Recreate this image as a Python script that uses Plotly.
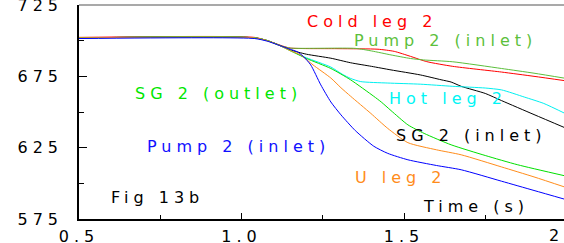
import plotly.graph_objects as go

# ---- data ----
cold_x = [0.5, 1.04, 1.08, 1.127, 1.15, 1.30, 1.42, 1.47, 1.52, 1.57, 1.65, 1.80, 1.90, 2.0]
cold_y = [702.3, 702.3, 700, 696.2, 694.8, 694.4, 694.0, 692.5, 689.0, 685.3, 682.0, 678.0, 675.0, 671.8]

pumptop_x = [0.5, 1.04, 1.08, 1.127, 1.15, 1.35, 1.40, 1.46, 1.52, 1.56, 1.65, 1.80, 1.90, 2.0]
pumptop_y = [702.0, 702.0, 700, 696.0, 694.8, 694.6, 692.8, 690.0, 687.5, 686.5, 685.2, 680.5, 677.2, 673.5]

sgin_x = [0.5, 1.04, 1.08, 1.127, 1.15, 1.20, 1.275, 1.336, 1.40, 1.46, 1.55, 1.614, 1.645, 1.676, 1.75, 1.80, 1.90, 2.0]
sgin_y = [702.0, 702.0, 700, 695.8, 693.5, 690.5, 687.7, 684.5, 682.0, 679.5, 676.0, 672.6, 671.0, 668.0, 663.0, 658.0, 648.2, 638.5]

hot_x = [0.5, 1.04, 1.08, 1.127, 1.15, 1.20, 1.275, 1.31, 1.336, 1.367, 1.45, 1.55, 1.65, 1.75, 1.80, 1.87, 1.93, 2.0]
hot_y = [702.0, 702.0, 700, 695.6, 693.0, 688.0, 681.5, 676.5, 673.5, 671.3, 670.3, 669.5, 668.0, 666.8, 665.5, 660.5, 656.0, 648.5]

sgout_x = [0.5, 1.04, 1.08, 1.127, 1.15, 1.20, 1.275, 1.336, 1.407, 1.43, 1.46, 1.512, 1.562, 1.645, 1.75, 1.85, 2.0]
sgout_y = [702.0, 702.0, 700, 695.6, 693.0, 687.5, 680.5, 672.5, 661.0, 657.0, 651.0, 641.0, 635.0, 627.0, 619.5, 613.0, 605.0]

uleg_x = [0.5, 1.04, 1.08, 1.127, 1.15, 1.182, 1.22, 1.275, 1.306, 1.336, 1.398, 1.45, 1.512, 1.60, 1.676, 1.80, 1.90, 2.0]
uleg_y = [702.0, 702.0, 700, 695.6, 693.0, 690.0, 683.0, 673.8, 667.0, 661.0, 649.0, 638.5, 628.5, 623.5, 620.0, 611.5, 604.5, 597.0]

pumpbot_x = [0.5, 1.04, 1.08, 1.127, 1.15, 1.172, 1.19, 1.213, 1.244, 1.275, 1.306, 1.35, 1.407, 1.45, 1.512, 1.60, 1.676, 1.80, 1.90, 2.0]
pumpbot_y = [701.5, 701.5, 699.6, 695.8, 694.0, 692.2, 689.0, 683.0, 669.0, 657.0, 648.0, 637.0, 626.0, 621.0, 616.5, 612.5, 609.5, 601.5, 595.0, 588.5]

series_names = ["Cold leg 2", "Pump 2 (inlet)", "SG 2 (inlet)", "Hot leg 2",
                "SG 2 (outlet)", "U leg 2", "Pump 2 (inlet)"]

y_tick_vals = [575, 625, 675, 725]
y_tick_labels = ["575", "625", "675", "725"]
y_minor_vals = [600, 650, 700]
x_tick_vals = [0.5, 1.0, 1.5]
x_tick_labels = ["0.5", "1.0", "1.5"]
x_minor_vals = [0.75, 1.25, 1.75]
x_last_label = "2.0"

FONT = "DejaVu Sans"
LS = 5  # letter spacing to mimic the horizontally stretched text


def sp(t):
    return f'<span style="letter-spacing:{LS}px">{t}</span>'


fig = go.Figure()
lines = [
    (cold_x, cold_y, "#ff0000"),
    (pumptop_x, pumptop_y, "#5cbf3c"),
    (sgin_x, sgin_y, "#000000"),
    (hot_x, hot_y, "#00f0f0"),
    (sgout_x, sgout_y, "#00e000"),
    (uleg_x, uleg_y, "#ff8c1a"),
    (pumpbot_x, pumpbot_y, "#0000ff"),
]
for (xs, ys, c), nm in zip(lines, series_names):
    fig.add_trace(go.Scatter(x=xs, y=ys, mode="lines", name=nm,
                             line=dict(color=c, width=1, shape="spline", smoothing=0.6),
                             showlegend=False, hoverinfo="skip"))

labels = [
    ("Cold leg 2", 1.403, 713.3, "#ff0000"),
    ("Pump 2 (inlet)", 1.628, 700.4, "#5cbf3c"),
    ("SG 2 (outlet)", 0.929, 662.9, "#00e600"),
    ("Hot leg 2", 1.634, 659.6, "#00f5f5"),
    ("SG 2 (inlet)", 1.709, 633.3, "#000000"),
    ("Pump 2 (inlet)", 0.991, 625.6, "#1010ff"),
    ("U leg 2", 1.492, 604.2, "#ff8c1a"),
    ("Time (s)", 1.722, 584.1, "#000000"),
    ("Fig 13b", 0.7415, 589.8, "#000000"),
]
for t, x, y, c in labels:
    fig.add_annotation(x=x, y=y, xref="x", yref="y", text=sp(t), showarrow=False,
                       xanchor="center", yanchor="middle",
                       font=dict(family=FONT, size=16, color=c))

# partially visible last x tick label (its tick lies just past the window edge)
fig.add_annotation(x=1.0113, y=-0.075, xref="paper", yref="paper", text=sp(x_last_label),
                   showarrow=False, xanchor="center", yanchor="middle",
                   font=dict(family=FONT, size=16, color="#000000"))

# grey top frame
fig.add_shape(type="line", xref="paper", yref="paper", x0=0, x1=1, y0=1, y1=1,
              line=dict(color="#8c8c8c", width=1.5))

fig.update_layout(
    width=564, height=243,
    margin=dict(l=79, r=0, t=5, b=24, autoexpand=False),
    paper_bgcolor="white", plot_bgcolor="white",
    font=dict(family=FONT, size=16, color="#000000"),
    xaxis=dict(range=[0.5, 0.5 + 485 / 325], showgrid=False, zeroline=False,
               automargin=False, ticklabeloverflow="allow",
               showline=True, linecolor="#000000", linewidth=1.5,
               ticks="inside", ticklen=6, tickwidth=1, tickcolor="#000000",
               tickmode="array", tickvals=x_tick_vals,
               ticktext=[sp(t) for t in x_tick_labels],
               ticklabelstandoff=2,
               minor=dict(ticks="inside", ticklen=4, tickwidth=1, tickcolor="#000000",
                          tickvals=x_minor_vals, showgrid=False),
               tickfont=dict(family=FONT, size=16, color="#000000")),
    yaxis=dict(range=[575, 725], showgrid=False, zeroline=False,
               automargin=False, ticklabeloverflow="allow",
               showline=True, linecolor="#000000", linewidth=1.5,
               ticks="inside", ticklen=8, tickwidth=1, tickcolor="#000000",
               tickmode="array", tickvals=y_tick_vals,
               ticktext=[sp(t) for t in y_tick_labels],
               ticklabelstandoff=11,
               minor=dict(ticks="inside", ticklen=5, tickwidth=1, tickcolor="#000000",
                          tickvals=y_minor_vals, showgrid=False),
               tickfont=dict(family=FONT, size=16, color="#000000")),
)

fig.write_html("out.html", config={"displayModeBar": False},
               post_script="document.body.style.margin='0';document.body.style.overflow='hidden';")
